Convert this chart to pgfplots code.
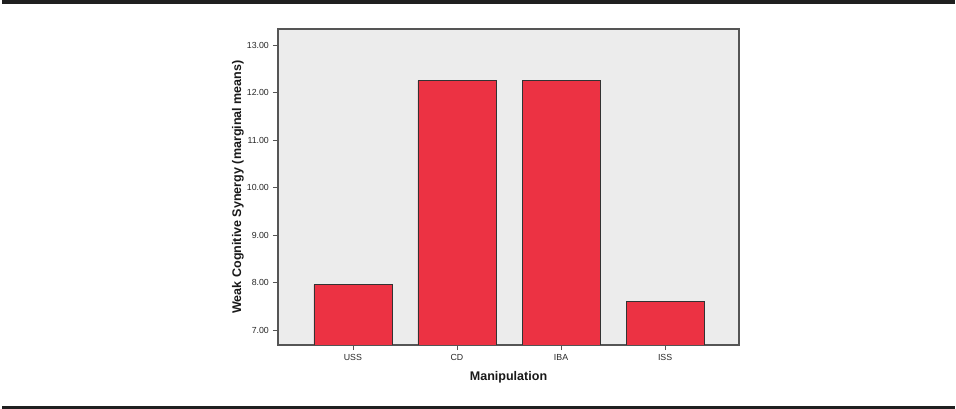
\documentclass[border=0pt]{standalone}
\usepackage{pgfplots}
\pgfplotsset{compat=1.18}
\usepackage{fontspec}
\setmainfont{Liberation Sans}
\definecolor{barred}{HTML}{EC3243}
\definecolor{bgray}{HTML}{ECECEC}
\definecolor{axgray}{HTML}{555555}
\begin{document}
\begin{tikzpicture}
\path (0pt,0pt) rectangle (717pt,306.75pt);
\fill[black!88] (1.5pt,303.9pt) rectangle (716.25pt,306.75pt);
\fill[black!88] (1.5pt,0.3pt) rectangle (716.25pt,2.55pt);
\begin{axis}[
  at={(208.5pt,48pt)}, anchor=south west,
  scale only axis, width=345.75pt, height=237pt,
  xmin=-0.72, xmax=3.71, ymin=6.684, ymax=13.337,
  xtick={0,1,2,3}, xticklabels={USS,CD,IBA,ISS},
  ytick={7,8,9,10,11,12,13},
  /pgf/number format/assume math mode=true,
  yticklabel style={/pgf/number format/fixed, /pgf/number format/fixed zerofill, /pgf/number format/precision=2, xshift=0.5pt},
  ticklabel style={font=\fontsize{6.6}{7}\selectfont, text=black!85},
  tick align=outside, major tick length=3.8pt,
  xtick pos=bottom, ytick pos=left,
  tick style={axgray, line width=0.6pt},
  axis line style={axgray, line width=0.8pt},
  axis background/.style={fill=bgray},
  xlabel={Manipulation}, ylabel={Weak Cognitive Synergy (marginal means)},
  label style={font=\fontsize{9.4}{11}\selectfont\bfseries, text=black!90},
  xlabel style={at={([yshift=-24pt]axis description cs:0.5,0)}, anchor=center},
  ylabel style={at={([xshift=-30pt]axis description cs:0,0.5)}, anchor=center},
  ybar, bar width=58.5pt, bar shift=0pt,
]
\addplot[fill=barred, draw=black!80, line width=0.6pt] coordinates {
  (0,7.954) (1,12.25) (2,12.25) (3,7.596)
};
\end{axis}
\end{tikzpicture}
\end{document}
